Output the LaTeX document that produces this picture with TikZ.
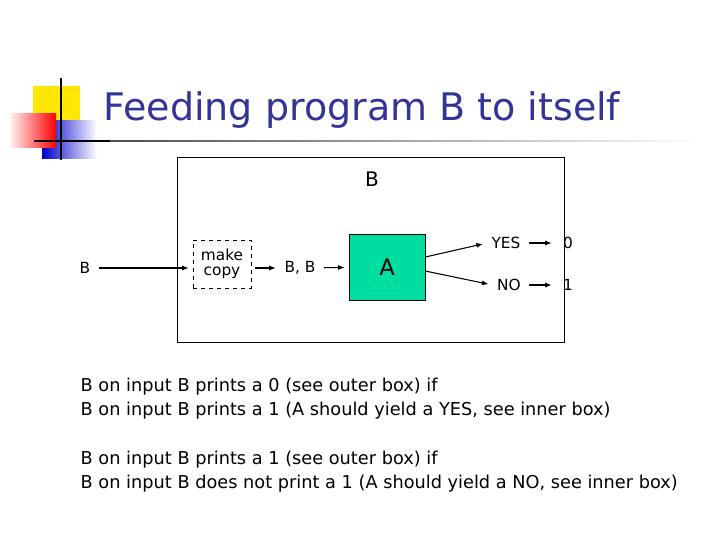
\documentclass[tikz,border=0pt]{standalone}
\usepackage{fontspec}
\setmainfont{DejaVu Sans}
\usetikzlibrary{positioning,arrows.meta}
\definecolor{titleblue}{RGB}{51,51,153}
\definecolor{agreen}{RGB}{0,221,160}
\begin{document}
\begin{tikzpicture}[x=0.75pt,y=-0.75pt,
    lbl/.style={font=\fontsize{11.5}{13}\selectfont},
    flow/.style={-{Latex[length=5pt]}, thick, shorten >=3pt, shorten <=3pt},
    body/.style={anchor=west, font=\fontsize{13.3}{15}\selectfont}
]
    \useasboundingbox (0,0) rectangle (720,540);
    % logo
    \fill[yellow!90!orange] (33,86) rectangle (80,121);
    \shade[left color=blue!80!black, right color=white] (42,120) rectangle (97,158);
    \shade[left color=red!5, right color=red] (10,113) rectangle (56,147);
    \draw[very thick] (61,78) -- (61,160);
    \draw[very thick] (34,141) -- (110,141);
    \shade[left color=black!70, right color=white] (110,140.2) rectangle (700,141.8);
    \node[text=titleblue, font=\fontsize{28.5}{34}\selectfont] (title) at (362,110) {Feeding program B to itself};
    % diagram
    \draw (177,157) rectangle (564,342);
    \node[font=\fontsize{15}{18}\selectfont] (outer) at (372,179) {B};
    \node[lbl] (inB) at (85,268) {B};
    \node[lbl, draw, dashed, align=center, inner sep=1pt, minimum width=58*0.75pt, minimum height=48*0.75pt] (copy) at (222,264) {make\\[-2pt]copy};
    \node[lbl] (bb) at (300,268) {B, B};
    \node[draw, fill=agreen, minimum width=76*0.75pt, minimum height=66*0.75pt, font=\fontsize{17}{20}\selectfont] (A) at (387,267) {A};
    \node[lbl] (yes) at (506,243) {YES};
    \node[lbl] (no) at (509,285) {NO};
    \node[lbl] (zero) at (568,243) {0};
    \node[lbl] (one) at (568,285) {1};
    \draw[flow] (inB) -- (inB -| copy.west);
    \draw[flow] (copy.east |- bb) -- (bb);
    \draw[flow] (bb) -- (A);
    \draw[flow, shorten <=0pt] (A.east |- 0,257) -- (yes.west);
    \draw[flow, shorten <=0pt] (A.east |- 0,271) -- (no.west);
    \draw[flow, shorten >=5pt] (yes) -- (zero);
    \draw[flow, shorten >=5pt] (no) -- (one);
    % text
    \node[body] (t1) at (76,387) {B on input B prints a 0 (see outer box) if};
    \node[body] (t2) at (76,411) {B on input B prints a 1 (A should yield a YES, see inner box)};
    \node[body] (t3) at (76,460) {B on input B prints a 1 (see outer box) if};
    \node[body] (t4) at (76,484) {B on input B does not print a 1 (A should yield a NO, see inner box)};
\end{tikzpicture}
\end{document}
